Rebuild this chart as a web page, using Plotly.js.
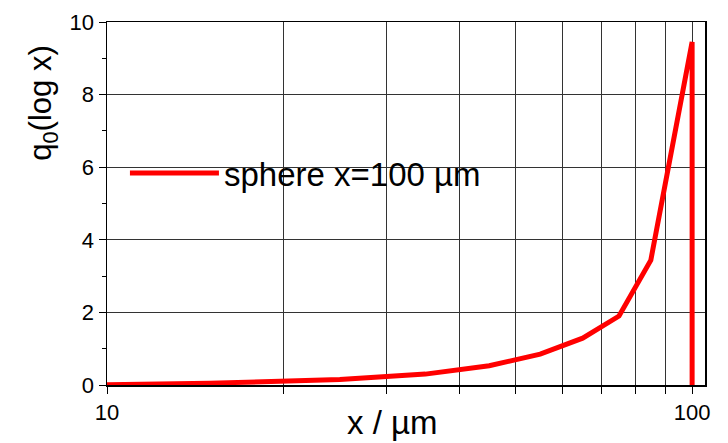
<!DOCTYPE html>
<html>
<head>
<meta charset="utf-8">
<script src="https://cdn.plot.ly/plotly-3.0.1.min.js"></script>
<style>html,body{margin:0;padding:0;background:#fff;}#chart{width:728px;height:443px;}</style>
</head>
<body>
<div id="chart"></div>
<script>
const seriesName = "sphere x=100 µm";
const xValues = [10, 15, 25, 35, 45, 55, 65, 75, 85, 100, 100];
const yValues = [0.01, 0.05, 0.15, 0.3, 0.53, 0.85, 1.29, 1.9, 3.44, 9.45, 0];
const xTickVals = [10, 20, 30, 40, 50, 60, 70, 80, 90, 100];
const xTickText = ["10", "", "", "", "", "", "", "", "", "100"];
const yTickVals = [0, 2, 4, 6, 8, 10];
const xTitle = "x / µm";
const yTitle = "q<sub>0</sub>(log x)";

const font = "Liberation Sans, Arial, Helvetica, sans-serif";

Plotly.newPlot("chart", [{
  x: xValues, y: yValues, type: "scatter", mode: "lines",
  name: seriesName,
  line: {color: "#ff0000", width: 5}
}], {
  width: 728, height: 443,
  margin: {l: 107, r: 23, t: 22, b: 58},
  paper_bgcolor: "#fff", plot_bgcolor: "#fff",
  font: {family: font, color: "#000", size: 22},
  showlegend: true,
  legend: {x: 0.030, y: 0.661, xanchor: "left", yanchor: "top",
    bgcolor: "rgba(0,0,0,0)", borderwidth: 0, font: {size: 33, family: font},
    itemwidth: 89},
  shapes: [{type: "rect", xref: "paper", yref: "paper", layer: "between",
    x0: 0.002, x1: 0.6605, y0: 0.490, y1: 0.667,
    fillcolor: "#fff", line: {width: 0}}],
  annotations: [
    {text: xTitle, xref: "paper", yref: "paper", x: 0.4766, y: -0.104,
     xanchor: "center", yanchor: "middle", showarrow: false, font: {size: 33}},
    {text: yTitle, xref: "paper", yref: "paper", x: -0.107, y: 0.775,
     xanchor: "center", yanchor: "middle", showarrow: false, textangle: -90, font: {size: 31}}
  ],
  xaxis: {type: "log", range: [1, Math.log10(105.2)],
    tickvals: xTickVals, ticktext: xTickText,
    ticks: "outside", ticklen: 7, tickcolor: "#000", tickwidth: 1,
    showgrid: true, gridcolor: "#333", gridwidth: 1,
    showline: true, linecolor: "#000", linewidth: 1.5, mirror: true,
    zeroline: false,
    tickfont: {size: 22}},
  yaxis: {range: [0, 10], tickvals: yTickVals,
    ticks: "outside", ticklen: 7, tickcolor: "#000", tickwidth: 1,
    minor: {dtick: 1, ticks: "outside", ticklen: 4, tickcolor: "#000", showgrid: false},
    showgrid: true, gridcolor: "#333", gridwidth: 1,
    showline: true, linecolor: "#000", linewidth: 1.5, mirror: true,
    zeroline: false,
    tickfont: {size: 22}}
}, {displayModeBar: false, staticPlot: true});
</script>
</body>
</html>
